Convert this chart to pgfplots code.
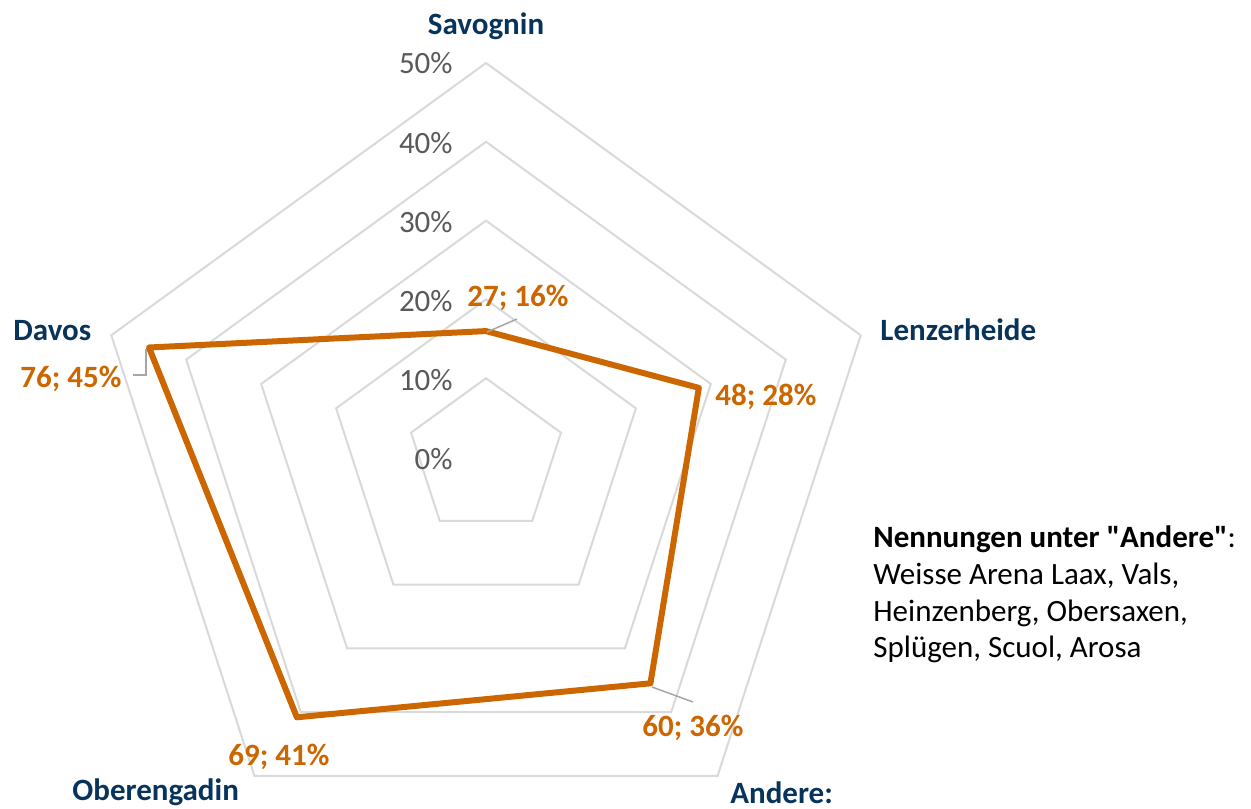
\documentclass[border=0pt]{standalone}
\usepackage{fontspec}
\setmainfont{Carlito}[Ligatures=TeXOff]
\usepackage{pgfplots}
\pgfplotsset{compat=1.18}
\usepgfplotslibrary{polar}
\definecolor{navy}{RGB}{8,52,92}
\definecolor{orng}{RGB}{204,102,0}
\definecolor{tickgray}{RGB}{89,89,89}
\definecolor{gridgray}{RGB}{217,217,217}
\definecolor{leader}{RGB}{166,166,166}
\begin{document}
\begin{tikzpicture}
\useasboundingbox (0,0) rectangle (625.5pt,-404pt);
\begin{polaraxis}[at={(243pt,-228.5pt)}, anchor=center, width=394pt, height=394pt, scale only axis, hide axis, ymin=0, ymax=50, xmin=0, xmax=360, clip=false]
\pgfplotsinvokeforeach{10,20,30,40,50}{\addplot[gridgray, line width=1pt, mark=none] coordinates {(90,#1) (18,#1) (-54,#1) (-126,#1) (162,#1)} -- cycle;}
\addplot[orng, line width=3pt, mark=none, line join=round] coordinates {(90,15.98) (18,28.40) (-54,35.50) (-126,40.83) (162,44.97)} -- cycle;
\end{polaraxis}
\begin{scope}[x=0.5pt,y=-0.5pt, every node/.style={inner sep=0pt, font=\fontsize{15.5}{18.5}\selectfont}]
\draw[leader, line width=0.75pt] (487,332)--(517,319);
\draw[leader, line width=0.75pt] (146,349)--(146,375)--(133,375);
\draw[leader, line width=0.75pt] (652,687)--(693,702);
% category labels
\node[anchor=base, text=navy, font=\fontsize{15.5}{18.5}\selectfont\bfseries] at (486,35) {Savognin};
\node[anchor=base west, text=navy, font=\fontsize{15.5}{18.5}\selectfont\bfseries] at (880,340) {Lenzerheide};
\node[anchor=base west, text=navy, font=\fontsize{15.5}{18.5}\selectfont\bfseries] at (730,803) {Andere:};
\node[anchor=base west, text=navy, font=\fontsize{15.5}{18.5}\selectfont\bfseries] at (72,800) {Oberengadin};
\node[anchor=base west, text=navy, font=\fontsize{15.5}{18.5}\selectfont\bfseries] at (13,340) {Davos};
% tick labels
\node[anchor=base east, text=tickgray] at (453,469) {0\%};
\node[anchor=base east, text=tickgray] at (453,390) {10\%};
\node[anchor=base east, text=tickgray] at (453,311) {20\%};
\node[anchor=base east, text=tickgray] at (453,232) {30\%};
\node[anchor=base east, text=tickgray] at (453,153) {40\%};
\node[anchor=base east, text=tickgray] at (453,74) {50\%};
% data labels
\node[anchor=base west, text=orng, font=\fontsize{15.5}{18.5}\selectfont\bfseries] at (467,306) {27; 16\%};
\node[anchor=base west, text=orng, font=\fontsize{15.5}{18.5}\selectfont\bfseries] at (715,405) {48; 28\%};
\node[anchor=base west, text=orng, font=\fontsize{15.5}{18.5}\selectfont\bfseries] at (642,736) {60; 36\%};
\node[anchor=base west, text=orng, font=\fontsize{15.5}{18.5}\selectfont\bfseries] at (228,765) {69; 41\%};
\node[anchor=base west, text=orng, font=\fontsize{15.5}{18.5}\selectfont\bfseries] at (20,387) {76; 45\%};
% note
\node[anchor=base west] at (873,547) {\textbf{Nennungen unter "Andere"}:};
\node[anchor=base west] at (873,584) {Weisse Arena Laax, Vals,};
\node[anchor=base west] at (873,621) {Heinzenberg, Obersaxen,};
\node[anchor=base west] at (873,657) {Splügen, Scuol, Arosa};
\end{scope}
\end{tikzpicture}
\end{document}
